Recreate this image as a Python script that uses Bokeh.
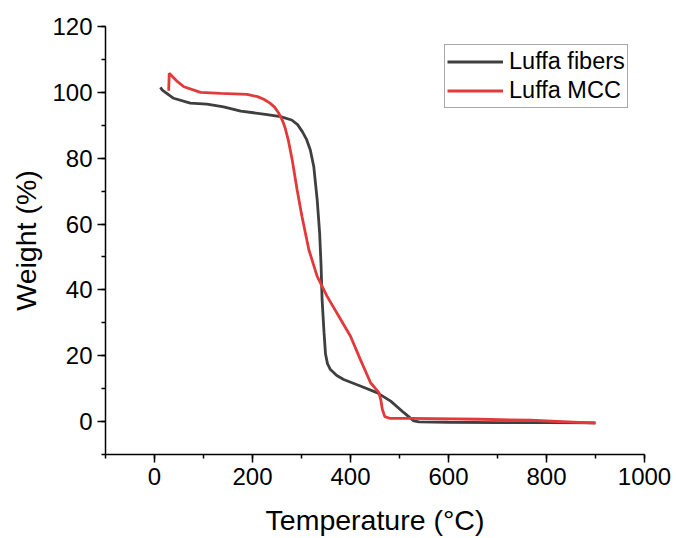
from bokeh.plotting import figure
from bokeh.models import Range1d, SingleIntervalTicker, Legend, LegendItem
from bokeh.embed import file_html
from bokeh.resources import INLINE

# Data (Temperature °C, Weight %)
fibers_T = [12, 16, 39, 73, 107, 141, 176, 202, 230, 257, 280, 292, 302, 310, 318, 325, 332, 337, 340, 342, 346, 349, 353, 359, 372, 386, 420, 454, 482, 509, 529, 540, 600, 700, 800, 900]
fibers_W = [101.5, 100.7, 98.2, 96.7, 96.4, 95.6, 94.3, 93.8, 93.2, 92.6, 91.6, 90.2, 88.0, 85.8, 82.5, 77.5, 67.4, 57.3, 47.2, 37.1, 27.0, 20.5, 17.6, 15.8, 14.0, 12.8, 10.8, 8.8, 6.2, 2.7, 0.2, -0.1, -0.2, -0.3, -0.3, -0.4]

mcc_T = [29, 30, 45, 60, 94, 135, 189, 210, 223, 235, 245, 253, 261, 267, 273, 281, 291, 301, 315, 332, 352, 380, 400, 420, 441, 458, 462, 465, 470, 480, 522, 665, 767, 900]
mcc_W = [100.5, 105.8, 103.5, 101.7, 100.0, 99.7, 99.4, 98.7, 97.9, 96.8, 95.5, 93.8, 91.5, 89.0, 85.5, 79.5, 70.4, 62.3, 52.2, 44.1, 38.1, 31.0, 25.9, 18.9, 11.8, 8.8, 6.5, 3.7, 1.5, 1.0, 1.0, 0.7, 0.4, -0.5]

series_names = ["Luffa fibers", "Luffa MCC"]
x_label = "Temperature (°C)"
y_label = "Weight (%)"

FONT = "Liberation Sans"

p = figure(width=676, height=538, output_backend="svg", toolbar_location=None,
           x_range=Range1d(-100, 1000), y_range=Range1d(-10, 120),
           min_border_left=105, min_border_right=32, min_border_top=26, min_border_bottom=83)
p.outline_line_color = None
p.xgrid.grid_line_color = None
p.ygrid.grid_line_color = None
p.background_fill_color = "white"
p.border_fill_color = "white"

p.xaxis.ticker = SingleIntervalTicker(interval=200, num_minor_ticks=2)
p.yaxis.ticker = SingleIntervalTicker(interval=20, num_minor_ticks=2)

for ax in (p.xaxis[0], p.yaxis[0]):
    ax.axis_line_color = "black"
    ax.axis_line_width = 1.5
    ax.major_tick_line_color = "black"
    ax.major_tick_line_width = 1.5
    ax.minor_tick_line_color = "black"
    ax.minor_tick_line_width = 1.5
    ax.major_tick_out = 8
    ax.major_tick_in = 0
    ax.minor_tick_out = 4
    ax.minor_tick_in = 0
    ax.major_label_text_font = FONT
    ax.major_label_text_font_size = "24px"
    ax.major_label_text_color = "black"
    ax.axis_label_text_font = FONT
    ax.axis_label_text_font_size = "28.5px"
    ax.axis_label_text_font_style = "normal"
    ax.axis_label_text_color = "black"

p.xaxis.axis_label = x_label
p.yaxis.axis_label = y_label
p.xaxis.major_label_standoff = 5
p.yaxis.major_label_standoff = 5
p.xaxis.axis_label_standoff = 16
p.yaxis.axis_label_standoff = 7

r1 = p.line(fibers_T, fibers_W, line_color="#3f3f3f", line_width=2.8)
r2 = p.line(mcc_T, mcc_W, line_color="#e23a3a", line_width=2.8)

legend = Legend(items=[LegendItem(label=series_names[0], renderers=[r1]),
                       LegendItem(label=series_names[1], renderers=[r2])],
                location=(339, 346))
legend.label_text_font = FONT
legend.label_text_font_size = "23.5px"
legend.label_text_color = "black"
legend.glyph_width = 56
legend.glyph_height = 29
legend.label_height = 29
legend.label_standoff = 6
legend.spacing = 0
legend.padding = 2
legend.margin = 0
legend.border_line_color = "#555555"
legend.border_line_width = 1
legend.background_fill_alpha = 1
p.add_layout(legend)

open("out.html", "w").write(file_html(p, INLINE))
